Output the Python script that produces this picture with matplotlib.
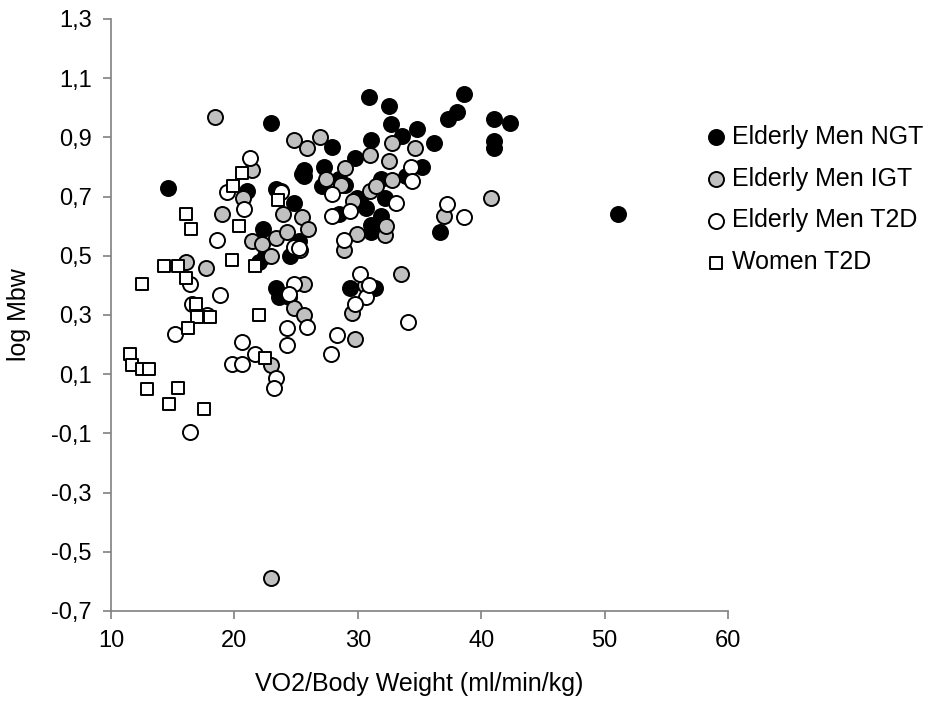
import matplotlib
matplotlib.use('Agg')
import matplotlib.pyplot as plt
from matplotlib.ticker import FuncFormatter

# Elderly Men NGT
ngt_x = [14.6, 23.0, 30.9, 32.5, 32.7, 31.1, 27.9, 29.8, 25.6, 25.5, 27.3, 27.1, 28.5,
         29.0, 21.0, 23.4, 24.8, 29.9, 30.7, 31.9, 32.2, 31.9, 31.1, 31.1, 22.3, 23.4,
         23.6, 24.4, 29.4, 31.4, 38.6, 38.0, 37.3, 41.0, 42.3, 41.0, 41.0, 34.8, 33.6,
         36.2, 35.2, 33.9, 36.7, 51.1, 22.0, 24.5, 25.2, 28.5, 30.2, 23.8, 22.5, 25.6]
ngt_y = [0.73, 0.95, 1.035, 1.007, 0.946, 0.89, 0.868, 0.83, 0.79, 0.775, 0.80, 0.735, 0.76,
         0.74, 0.72, 0.725, 0.68, 0.695, 0.66, 0.76, 0.695, 0.633, 0.605, 0.58, 0.59, 0.39,
         0.36, 0.36, 0.39, 0.39, 1.048, 0.985, 0.963, 0.963, 0.95, 0.888, 0.865, 0.93, 0.905,
         0.88, 0.80, 0.77, 0.58, 0.64, 0.48, 0.50, 0.55, 0.64, 0.69, 0.72, 0.50, 0.77]

# Elderly Men IGT
igt_x = [18.4, 24.8, 25.9, 26.9, 32.8, 31.0, 32.5, 29.0, 27.4, 28.6, 21.4, 20.7, 19.0,
         23.9, 25.5, 26.0, 21.4, 23.4, 24.3, 22.2, 32.8, 31.0, 31.5, 29.9, 32.2, 32.3,
         28.9, 29.6, 23.0, 17.7, 16.1, 25.6, 24.8, 25.6, 30.6, 29.5, 29.8, 23.0, 33.5,
         34.6, 37.0, 40.8, 23.0, 25.3]
igt_y = [0.97, 0.89, 0.865, 0.90, 0.88, 0.84, 0.82, 0.795, 0.76, 0.74, 0.79, 0.695, 0.64,
         0.64, 0.63, 0.59, 0.55, 0.56, 0.58, 0.54, 0.755, 0.72, 0.735, 0.575, 0.57, 0.60,
         0.52, 0.685, 0.50, 0.46, 0.48, 0.405, 0.325, 0.30, 0.40, 0.307, 0.22, 0.13, 0.44,
         0.865, 0.636, 0.695, -0.59, 0.52]

# Elderly Men T2D
t2d_x = [21.3, 19.4, 20.8, 18.6, 16.4, 18.8, 16.6, 17.8, 15.2, 20.6, 21.7, 19.8, 20.6,
         23.4, 23.2, 16.4, 23.8, 24.8, 25.2, 27.9, 27.9, 29.4, 28.9, 33.1, 24.8, 24.4,
         30.2, 30.7, 29.8, 24.3, 25.9, 24.3, 28.3, 27.8, 34.1, 34.3, 34.4, 37.2, 38.6, 30.9]
t2d_y = [0.83, 0.715, 0.657, 0.555, 0.405, 0.368, 0.337, 0.30, 0.235, 0.21, 0.167, 0.135, 0.135,
         0.088, 0.053, -0.095, 0.715, 0.53, 0.525, 0.633, 0.71, 0.65, 0.553, 0.68, 0.405, 0.37,
         0.44, 0.36, 0.338, 0.255, 0.258, 0.198, 0.232, 0.168, 0.276, 0.80, 0.752, 0.674, 0.63, 0.40]

# Women T2D
wom_x = [20.6, 19.9, 16.1, 16.5, 20.4, 14.3, 15.4, 16.1, 12.5, 19.8, 21.7, 16.9, 17.0,
         18.0, 22.0, 16.2, 11.5, 11.7, 12.5, 13.1, 12.9, 15.4, 14.7, 17.5, 22.5, 23.5]
wom_y = [0.78, 0.735, 0.64, 0.59, 0.60, 0.466, 0.466, 0.426, 0.405, 0.487, 0.466, 0.337, 0.293,
         0.293, 0.30, 0.256, 0.167, 0.13, 0.116, 0.116, 0.05, 0.052, 0.0, -0.016, 0.155, 0.69]

plt.rcParams['font.family'] = ['Liberation Sans', 'DejaVu Sans']

fig = plt.figure(figsize=(9.35, 7.08), dpi=100)
ax = fig.add_axes([111/935, 1 - 611/708, (728 - 111)/935, (611 - 19)/708])

ax.scatter(ngt_x, ngt_y, s=117, c='black', edgecolors='black', linewidths=1.4,
           label='Elderly Men NGT', zorder=3)
ax.scatter(igt_x, igt_y, s=117, c='#c0c0c0', edgecolors='black', linewidths=1.4,
           label='Elderly Men IGT', zorder=3)
ax.scatter(t2d_x, t2d_y, s=117, c='white', edgecolors='black', linewidths=1.4,
           label='Elderly Men T2D', zorder=3)
ax.scatter(wom_x, wom_y, s=63, marker='s', c='white', edgecolors='black', linewidths=1.4,
           label='Women T2D', zorder=3)

ax.set_xlim(10, 60)
ax.set_ylim(-0.7, 1.3)
ax.set_xticks(range(10, 61, 10))
ax.set_yticks([-0.7 + 0.2 * k for k in range(11)])
ax.yaxis.set_major_formatter(FuncFormatter(lambda v, p: f'{v:.1f}'.replace('.', ',')))

for side in ['top', 'right']:
    ax.spines[side].set_visible(False)
for side in ['left', 'bottom']:
    ax.spines[side].set_color('#808080')
    ax.spines[side].set_linewidth(1.2)
ax.tick_params(direction='out', length=6, width=1.2, color='#808080',
               labelsize=17, pad=8)

ax.set_xlabel('VO2/Body Weight (ml/min/kg)', fontsize=18, labelpad=14)
ax.set_ylabel('log Mbw', fontsize=18, labelpad=14)

fig.legend(loc='upper left', bbox_to_anchor=(703/935, 1 - 125/708), frameon=False,
           fontsize=18, handletextpad=0.18, labelspacing=0.71, borderpad=0,
           handlelength=1.0, borderaxespad=0)

plt.savefig('out.png', dpi=100)
